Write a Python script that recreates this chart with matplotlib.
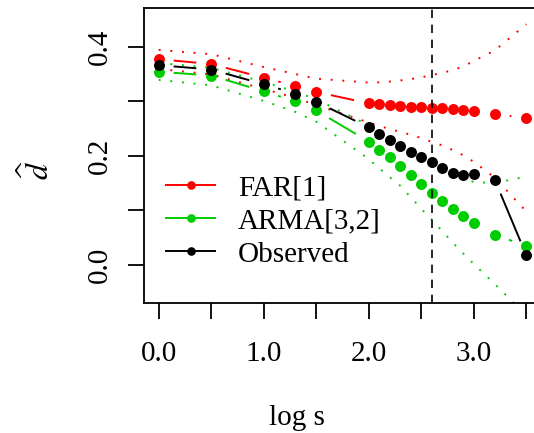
import numpy as np
import matplotlib
matplotlib.use("Agg")
import matplotlib.pyplot as plt
from matplotlib.lines import Line2D

plt.rcParams["font.family"] = ["Liberation Serif", "DejaVu Serif"]
plt.rcParams["mathtext.fontset"] = "stix"

# log10 of the aggregation level s
log_s = [0.0, 0.5, 1.0, 1.3, 1.5, 2.0, 2.1, 2.2, 2.3, 2.4, 2.5, 2.6,
         2.7, 2.8, 2.9, 3.0, 3.2, 3.5]

# estimated memory parameter d-hat
far = [0.377, 0.368, 0.343, 0.328, 0.317, 0.296, 0.294, 0.2925, 0.291,
       0.290, 0.289, 0.288, 0.287, 0.2857, 0.284, 0.2812, 0.2765, 0.269]
arma = [0.354, 0.347, 0.318, 0.300, 0.283, 0.226, 0.211, 0.198, 0.181,
        0.164, 0.149, 0.1325, 0.118, 0.103, 0.0897, 0.0763, 0.0555, 0.0348]
observed = [0.366, 0.358, 0.331, 0.314, 0.299, 0.252, 0.240, 0.229, 0.2186,
            0.207, 0.198, 0.1886, 0.178, 0.169, 0.1643, 0.1673, 0.156, 0.018]

# pointwise bands
far_hi = [0.394, 0.386, 0.3626, 0.3498, 0.3414, 0.334, 0.3345, 0.336, 0.338,
          0.3405, 0.3437, 0.3478, 0.352, 0.3567, 0.3638, 0.3736, 0.393, 0.441]
far_lo = [0.359, 0.349, 0.3225, 0.306, 0.293, 0.261, 0.2545, 0.249, 0.2438,
          0.2385, 0.2325, 0.2255, 0.219, 0.2105, 0.201, 0.189, 0.160, 0.098]
arma_hi = [0.370, 0.361, 0.3355, 0.3176, 0.3035, 0.256, 0.245, 0.234, 0.223,
           0.2115, 0.199, 0.188, 0.177, 0.167, 0.159, 0.152, 0.150, 0.162]
arma_lo = [0.339, 0.329, 0.3005, 0.2805, 0.2625, 0.194, 0.177, 0.161, 0.145,
           0.124, 0.103, 0.083, 0.062, 0.041, 0.021, 0.002, -0.035, -0.092]

cutoff_s = 400

x_ticks = [0.0, 0.5, 1.0, 1.5, 2.0, 2.5, 3.0, 3.5]
x_ticklabels = ["0.0", "", "1.0", "", "2.0", "", "3.0", ""]
y_ticks = [0.0, 0.1, 0.2, 0.3, 0.4]
y_ticklabels = ["0.0", "", "0.2", "", "0.4"]

RED = "#ff0000"
GREEN = "#00cd00"
BLACK = "#000000"

W, H, DPI = 534, 433, 100
fig = plt.figure(figsize=(W / DPI, H / DPI), dpi=DPI)
ax = fig.add_axes([144 / W, 130 / H, 397 / W, 295 / H])
ax.set_xlim(-0.14, 3.64)
ax.set_ylim(-0.0696, 0.4707)

FS = 21


def points_and_gapped_lines(x, y, color, zorder, gap_px=15.0):
    """Points joined by line segments that stop short of each point."""
    ax.plot(x, y, "o", color=color, ms=7.9, mec="none", zorder=zorder + 0.5)
    pts = ax.transData.transform(np.column_stack([x, y]))
    inv = ax.transData.inverted()
    for p, q in zip(pts[:-1], pts[1:]):
        d = q - p
        L = np.hypot(*d)
        if L <= 2 * gap_px:
            continue
        u = d / L
        seg = inv.transform(np.array([p + gap_px * u, q - gap_px * u]))
        ax.plot(seg[:, 0], seg[:, 1], color=color, lw=1.4,
                solid_capstyle="butt", zorder=zorder)


points_and_gapped_lines(log_s, far, RED, 3)
points_and_gapped_lines(log_s, arma, GREEN, 3)
points_and_gapped_lines(log_s, observed, BLACK, 4)

dot_style = (0, (1.0, 5.0))
for band, c in [(far_hi, RED), (far_lo, RED), (arma_hi, GREEN), (arma_lo, GREEN)]:
    ax.plot(log_s, band, color=c, lw=1.4, ls=dot_style, zorder=2)

ax.axvline(np.log10(cutoff_s), color=BLACK, lw=1.2, ls=(0, (5, 4)), zorder=6)

# axes styling
for side in ["left", "bottom", "top", "right"]:
    ax.spines[side].set_linewidth(1.3)
ax.set_xticks(x_ticks)
ax.set_xticklabels(x_ticklabels, fontsize=FS)
ax.set_yticks(y_ticks)
ax.set_yticklabels(y_ticklabels, fontsize=FS, rotation=90, va="center")
ax.tick_params(axis="both", direction="out", length=11.5, width=1.3)
ax.tick_params(axis="x", pad=16)
ax.tick_params(axis="y", pad=11)

fig.text(297 / W, 1 - 418 / H, "log s", fontsize=FS, ha="center", va="center")
fig.text(38 / W, 1 - 170 / H, r"$\widehat{d}$", fontsize=FS + 2,
         rotation=90, ha="center", va="center")

handles = [
    Line2D([], [], color=RED, marker="o", ms=6.2, mec="none", lw=1.4),
    Line2D([], [], color=GREEN, marker="o", ms=6.2, mec="none", lw=1.4),
    Line2D([], [], color=BLACK, marker="o", ms=6.2, mec="none", lw=1.4),
]
ax.legend(handles, ["FAR[1]", "ARMA[3,2]", "Observed"], loc="upper left",
          bbox_to_anchor=(22 / 397, (303 - 175) / 295), frameon=False,
          fontsize=FS, borderpad=0, borderaxespad=0, handlelength=1.68,
          handletextpad=0.79, labelspacing=0.23)

fig.savefig("out.png", dpi=DPI)
